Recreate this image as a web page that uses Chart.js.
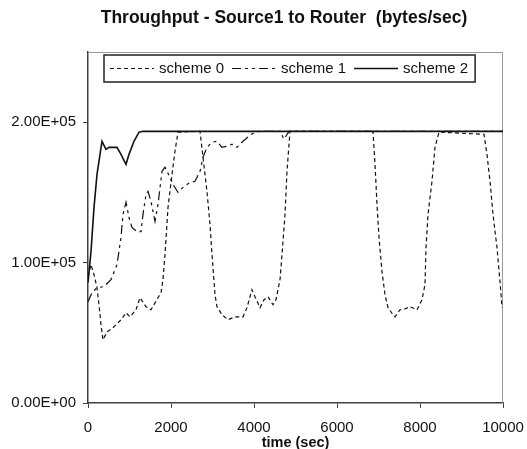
<!DOCTYPE html>
<html>
<head>
<meta charset="utf-8">
<title>Throughput - Source1 to Router</title>
<script src="https://cdn.jsdelivr.net/npm/chart.js@4/dist/chart.umd.min.js"></script>
<style>
    html, body { margin: 0; padding: 0; background: #fff; }
    canvas { display: block; }
</style>
</head>
<body>
<canvas id="throughputChart" width="527" height="449"></canvas>
<script>
// throughput samples, time in sec / rate in bytes per sec
const scheme0Time = [0, 72, 145, 217, 265, 313, 361, 458, 602, 795, 916, 1012, 1157, 1253, 1398, 1518, 1687, 1759, 1807, 1855, 1928, 2024, 2096, 2169, 2699, 2771, 2867, 2940, 2988, 3060, 3108, 3229, 3373, 3542, 3735, 3831, 3952, 4024, 4145, 4241, 4337, 4458, 4530, 4627, 4675, 4747, 4795, 4867, 6867, 6916, 6964, 7012, 7084, 7157, 7229, 7349, 7398, 7518, 7590, 7759, 7928, 8048, 8120, 8145, 8193, 8289, 8361, 8458, 9542, 9614, 9687, 9759, 9855, 9928, 9976];
const scheme0Rate = [90000, 98600, 91400, 82100, 70000, 55700, 45000, 50700, 53600, 59300, 64300, 61400, 66400, 75000, 68600, 66400, 75000, 78600, 87900, 105700, 139300, 162900, 179300, 192900, 193500, 175000, 150700, 127100, 105700, 77100, 68600, 62900, 59300, 61400, 61400, 67900, 80700, 75700, 67900, 73600, 75700, 70000, 73600, 87900, 105700, 134300, 165000, 193500, 193500, 170000, 141400, 117900, 93600, 77100, 67900, 62900, 61400, 66400, 66400, 68600, 66400, 73600, 84300, 110700, 134300, 157900, 182100, 192900, 191400, 177100, 157900, 134300, 110700, 86400, 67900];

const scheme1Time = [0, 96, 217, 386, 554, 699, 795, 843, 916, 988, 1060, 1181, 1277, 1325, 1398, 1446, 1518, 1614, 1687, 1783, 1855, 1976, 2048, 2169, 2289, 2458, 2578, 2699, 2771, 2867, 2988, 3108, 3229, 3349, 3470, 3590, 3735, 3904, 4024, 4145, 4627, 4723, 4843, 10000];
const scheme1Rate = [72100, 78600, 82100, 82900, 87900, 98600, 117900, 134300, 142900, 132100, 125000, 122100, 122100, 134300, 148600, 150700, 143600, 129300, 141400, 165000, 167900, 160700, 155700, 150000, 153600, 157100, 157900, 165000, 175000, 182100, 185700, 186400, 182100, 182900, 184300, 182100, 186400, 190700, 192900, 193500, 193500, 187900, 193500, 193500];

const scheme2Time = [0, 72, 145, 217, 337, 434, 506, 699, 795, 916, 988, 1108, 1229, 1325, 10000];
const scheme2Rate = [85700, 107900, 139300, 162900, 186400, 180700, 182100, 182100, 177100, 170000, 177100, 186400, 192900, 193500, 193500];

const seriesNames = ['scheme 0', 'scheme 1', 'scheme 2'];
const xTickValues = [0, 2000, 4000, 6000, 8000, 10000];
const yTickValues = [0, 100000, 200000];

const FONT = "'Liberation Sans', Arial, sans-serif";
const TITLE = 'Throughput - Source1 to Router  (bytes/sec)';

function toPoints(times, rates) {
    return times.map((t, i) => ({ x: t, y: rates[i] }));
}

// 2.00E+05 style labels
function sciLabel(v) {
    if (v === 0) return '0.00E+00';
    const e = Math.floor(Math.log10(v));
    const m = v / Math.pow(10, e);
    return m.toFixed(2) + 'E+' + String(e).padStart(2, '0');
}

// keep the plot box fixed, ignore label overhang
function noOverhang(scale) {
    scale.paddingLeft = 0;
    scale.paddingRight = 0;
    scale.paddingTop = 0;
    scale.paddingBottom = 0;
}

// grey frame on the top and right of the plot area
const plotFrame = {
    id: 'plotFrame',
    beforeDatasetsDraw(chart) {
        const { ctx, chartArea: a } = chart;
        ctx.save();
        ctx.strokeStyle = '#9a9a9a';
        ctx.lineWidth = 1;
        ctx.beginPath();
        ctx.moveTo(a.left, a.top + 0.5);
        ctx.lineTo(a.right - 0.5, a.top + 0.5);
        ctx.lineTo(a.right - 0.5, a.bottom);
        ctx.stroke();
        ctx.restore();
    }
};

// chart heading, sits a little left of the plot centre
const heading = {
    id: 'heading',
    afterDraw(chart) {
        const { ctx } = chart;
        ctx.save();
        ctx.font = 'bold 17.5px ' + FONT;
        ctx.fillStyle = '#111';
        ctx.textAlign = 'center';
        ctx.textBaseline = 'middle';
        ctx.fillText(TITLE, 284, 18);
        ctx.restore();
    }
};

// boxed legend sitting inside the plot area
const boxedLegend = {
    id: 'boxedLegend',
    afterDraw(chart) {
        const { ctx, chartArea: a } = chart;
        const sets = chart.data.datasets;
        const left = a.left + 16, top = a.top + 3, height = 27;
        const lineLen = 44, pad = 6;
        ctx.save();
        ctx.font = '15px ' + FONT;
        let x = left + pad;
        const items = sets.map(ds => {
            const w = ctx.measureText(ds.label).width;
            const item = { ds, x, w };
            x += lineLen + 5 + w + 8;
            return item;
        });
        const right = x - 8 + 7;
        ctx.fillStyle = '#fff';
        ctx.fillRect(left, top, right - left, height);
        ctx.strokeStyle = '#222';
        ctx.lineWidth = 1.5;
        ctx.strokeRect(left, top, right - left, height);
        const cy = top + height / 2;
        items.forEach(it => {
            ctx.strokeStyle = it.ds.borderColor;
            ctx.lineWidth = it.ds.borderWidth;
            ctx.setLineDash(it.ds.borderDash || []);
            ctx.beginPath();
            ctx.moveTo(it.x, cy);
            ctx.lineTo(it.x + lineLen, cy);
            ctx.stroke();
            ctx.setLineDash([]);
            ctx.fillStyle = '#111';
            ctx.textBaseline = 'middle';
            ctx.textAlign = 'left';
            ctx.fillText(it.ds.label, it.x + lineLen + 5, cy);
        });
        ctx.restore();
    }
};

new Chart(document.getElementById('throughputChart').getContext('2d'), {
    type: 'line',
    data: {
        datasets: [
            {
                label: seriesNames[0],
                data: toPoints(scheme0Time, scheme0Rate),
                borderColor: '#111',
                borderWidth: 1.2,
                borderDash: [4, 3]
            },
            {
                label: seriesNames[1],
                data: toPoints(scheme1Time, scheme1Rate),
                borderColor: '#111',
                borderWidth: 1.2,
                borderDash: [9, 4, 3, 4, 3, 4]
            },
            {
                label: seriesNames[2],
                data: toPoints(scheme2Time, scheme2Rate),
                borderColor: '#111',
                borderWidth: 1.6,
                borderDash: []
            }
        ]
    },
    options: {
        responsive: false,
        devicePixelRatio: 1,
        animation: false,
        events: [],
        elements: {
            point: { radius: 0 },
            line: { tension: 0, fill: false }
        },
        layout: { padding: { left: 0, right: 24, top: 52, bottom: 0 } },
        plugins: {
            legend: { display: false },
            tooltip: { enabled: false },
            title: { display: false }
        },
        scales: {
            x: {
                type: 'linear',
                min: 0,
                max: 10000,
                afterFit(scale) { scale.height = 46; noOverhang(scale); },
                afterBuildTicks(scale) { scale.ticks = xTickValues.map(v => ({ value: v })); },
                ticks: {
                    color: '#111',
                    font: { family: FONT, size: 15 },
                    padding: 11,
                    maxRotation: 0,
                    callback: v => String(v)
                },
                grid: { drawOnChartArea: false, drawTicks: true, tickLength: 5, color: '#404040' },
                border: { color: '#404040', width: 1.5 },
                title: {
                    display: true,
                    text: 'time (sec)',
                    color: '#111',
                    font: { family: FONT, size: 14.5, weight: 'bold', lineHeight: '12px' },
                    padding: { top: 0, bottom: 0 }
                }
            },
            y: {
                type: 'linear',
                min: 0,
                max: 250000,
                afterFit(scale) { scale.width = 88; noOverhang(scale); },
                afterBuildTicks(scale) { scale.ticks = yTickValues.map(v => ({ value: v })); },
                ticks: {
                    color: '#111',
                    font: { family: FONT, size: 15 },
                    padding: 7,
                    callback: v => sciLabel(v)
                },
                grid: { drawOnChartArea: false, drawTicks: true, tickLength: 5, color: '#404040' },
                border: { color: '#404040', width: 1.5 }
            }
        }
    },
    plugins: [plotFrame, heading, boxedLegend]
});
</script>
</body>
</html>
